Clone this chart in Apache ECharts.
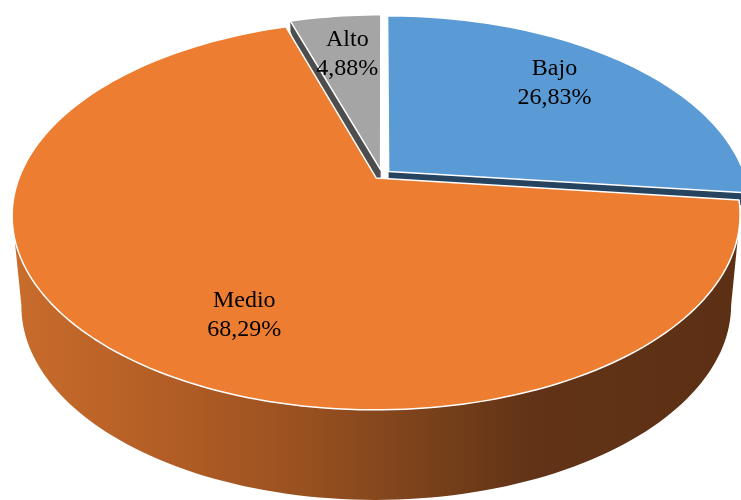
<!DOCTYPE html>
<html><head><meta charset="utf-8">
<script src="https://cdn.jsdelivr.net/npm/echarts@6/dist/echarts.min.js"></script>
<style>html,body{margin:0;padding:0;background:#fff;overflow:hidden}#c{width:741px;height:500px}</style>
</head><body><div id="c"></div>
<script>
// ---- data ----
const categories = ['Bajo', 'Medio', 'Alto'];
const values = [26.83, 68.29, 4.88];

// ---- styles / layout (not data) ----
const topColors = ['#5B9BD5', '#ED7D31', '#A5A5A5'];
const cutColors = ['#26435F', '#8A4A1E', '#4D4D4D'];
const wallGradient = {
  type: 'linear', x: 15, y: 0, x2: 741, y2: 0, global: true,
  colorStops: [
    { offset: 0, color: '#C96C2C' },
    { offset: 0.255, color: '#AD5A24' },
    { offset: 0.393, color: '#995120' },
    { offset: 0.558, color: '#7B421B' },
    { offset: 0.709, color: '#623316' },
    { offset: 1, color: '#5C3015' }
  ]
};
const wallFlat = ['#2A4A69', null, '#555555'];
const G = { cx: 382, cy: 174.5, A: 356, B: 186.2, k: 0.19, H: 90, bottomScale: 0.975, explode: 0.025, labelR: 0.7, startAngle: 90, cutRimDepth: 0.12 };
const labelNudge = [[-4, -9], [46, 24], [0, -3]];

// ---- geometry helpers ----
const total = values.reduce((a, b) => a + b, 0);
const D2R = Math.PI / 180;
const slices = [];
(function () {
  let a = G.startAngle;
  values.forEach((v) => {
    const sweep = 360 * v / total;
    const a0 = a, a1 = a - sweep;
    const mid = (a0 + a1) / 2;
    slices.push({ a0, a1, mid, ex: G.explode * Math.cos(mid * D2R), ey: G.explode * Math.sin(mid * D2R) });
    a = a1;
  });
})();
function proj(u, v, d) {
  const w = 1 + G.k * v;
  const sc = 1 - d * (1 - G.bottomScale);
  return [G.cx + sc * G.A * u / w, G.cy - G.B * v / w + d * G.H];
}
function arc(s, from, to, d) {
  const n = Math.max(2, Math.ceil(Math.abs(to - from) / 1.5));
  const pts = [];
  for (let j = 0; j <= n; j++) {
    const t = (from + (to - from) * j / n) * D2R;
    pts.push(proj(s.ex + Math.cos(t), s.ey + Math.sin(t), d));
  }
  return pts;
}
const silh = Math.asin(G.k) / D2R; // front limb angles
const frontLo = -180 + silh, frontHi = -silh;

function renderSides(params) {
  const i = params.dataIndex, s = slices[i];
  const children = [];
  // front wall
  const lo = Math.max(s.a1, frontLo), hi = Math.min(s.a0, frontHi);
  if (hi > lo) {
    const pts = arc(s, hi, lo, 0).concat(arc(s, lo, hi, 1));
    children.push({ type: 'polygon', shape: { points: pts }, style: { fill: wallFlat[i] || wallGradient }, z2: i === 1 ? 10 : 1 });
  }
  // cut faces (visible in explosion gaps)
  [[s.a0, s.a0 + 90], [s.a1, s.a1 - 90]].forEach(([a, nrm]) => {
    if (Math.sin(nrm * D2R) < -0.02) {
      const r = [s.ex + Math.cos(a * D2R), s.ey + Math.sin(a * D2R)];
      const pts = [proj(s.ex, s.ey, 0), proj(r[0], r[1], 0), proj(r[0], r[1], G.cutRimDepth), proj(s.ex, s.ey, 1)];
      children.push({ type: 'polygon', shape: { points: pts }, style: { fill: cutColors[i] }, z2: 5 });
    }
  });
  return { type: 'group', children };
}
function renderTops(params) {
  const i = params.dataIndex, s = slices[i];
  const pts = [proj(s.ex, s.ey, 0)].concat(arc(s, s.a0, s.a1, 0));
  const lp = proj(s.ex + G.labelR * Math.cos(s.mid * D2R), s.ey + G.labelR * Math.sin(s.mid * D2R), 0);
  const pct = values[i].toFixed(2).replace('.', ',') + '%';
  return {
    type: 'group', children: [
      { type: 'polygon', shape: { points: pts }, style: { fill: topColors[i], stroke: '#ffffff', lineWidth: 1.5, lineJoin: 'round' } },
      { type: 'text', x: lp[0] + labelNudge[i][0], y: lp[1] + labelNudge[i][1], z2: 20,
        style: { text: categories[i] + '\n' + pct, fill: '#000000', fontFamily: 'Liberation Serif', fontSize: 24,
          lineHeight: 29, align: 'center', verticalAlign: 'middle' } }
    ]
  };
}

const chart = echarts.init(document.getElementById('c'), null, { renderer: 'canvas' });
const seriesData = values.map((v, i) => ({ name: categories[i], value: [i, v] }));
chart.setOption({
  backgroundColor: '#ffffff',
  animation: false,
  series: [
    { type: 'custom', name: 'sides', coordinateSystem: 'none', z: 1, silent: true, renderItem: renderSides, data: seriesData },
    { type: 'custom', name: 'tops', coordinateSystem: 'none', z: 2, silent: true, renderItem: renderTops, data: seriesData }
  ]
});
</script>
</body></html>
